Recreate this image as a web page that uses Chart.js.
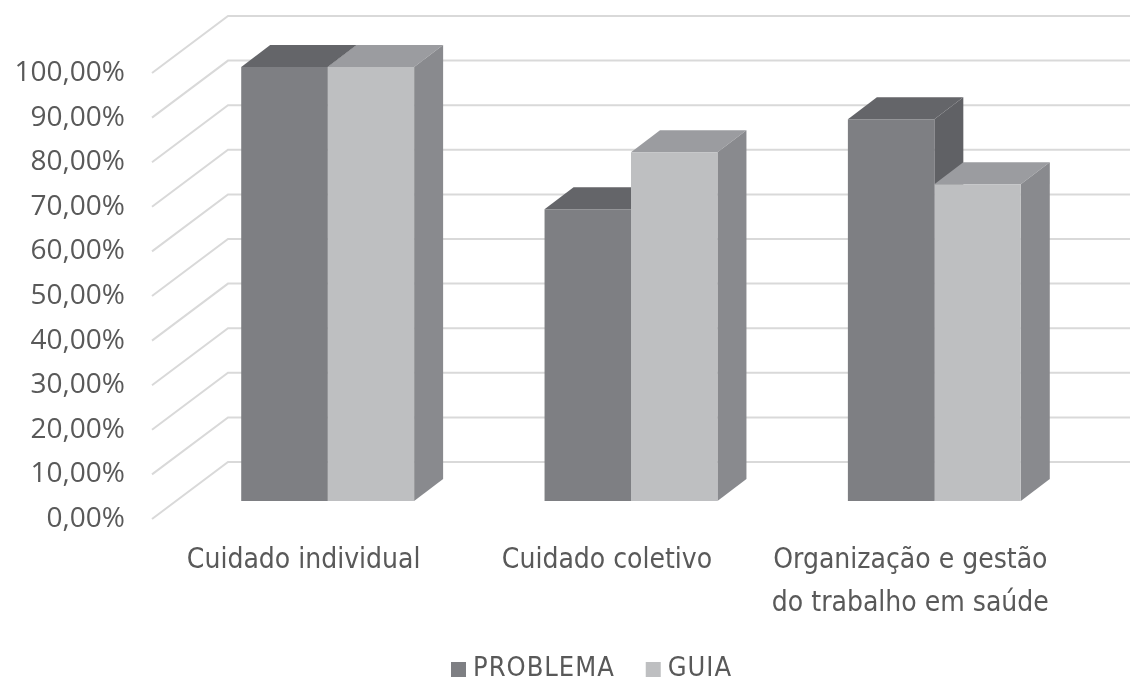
<!DOCTYPE html>
<html lang="pt-BR">
<head>
<meta charset="utf-8">
<title>Problema x Guia</title>
<script src="https://cdn.jsdelivr.net/npm/chart.js@4.4.1/dist/chart.umd.min.js"></script>
<style>
    html, body { margin: 0; padding: 0; background: #fff; }
    #grafico { position: relative; width: 1130px; height: 684px; }
</style>
</head>
<body>
<div id="grafico"><canvas id="chartDimensoes"></canvas></div>
<script>
const categorias = ['Cuidado individual', 'Cuidado coletivo', ['Organização e gestão', 'do trabalho em saúde']];
const problema = [97.3, 65.4, 85.6];
const guia = [97.3, 78.2, 71.0];
const marcas_eixo = [0, 10, 20, 30, 40, 50, 60, 70, 80, 90, 100];

// deslocamentos do efeito 3D (em px)
const PROF_BARRA = { x: 29, y: -22 };
const PAREDE_FRENTE = { x: -24, y: 18 };
const PAREDE_FUNDO = { x: 52, y: -39 };

const cores = [
    { frente: '#7e7f83', topo: '#646569', lado: '#606165' },
    { frente: '#bebfc1', topo: '#9b9ca0', lado: '#898a8e' }
];

function formata_pct(v) {
    return v.toFixed(2).replace('.', ',') + '%';
}

function poligono(ctx, pts, cor) {
    ctx.beginPath();
    ctx.moveTo(pts[0][0], pts[0][1]);
    for (let i = 1; i < pts.length; i++) ctx.lineTo(pts[i][0], pts[i][1]);
    ctx.closePath();
    ctx.fillStyle = cor;
    ctx.fill();
}

// os rótulos dos eixos não devem empurrar a área do gráfico
function sem_folga(s) {
    s.paddingTop = 0;
    s.paddingBottom = 0;
    s.paddingLeft = 0;
    s.paddingRight = 0;
}

const paredeEBarras3d = {
    id: 'paredeEBarras3d',
    beforeDatasetsDraw(chart) {
        const ctx = chart.ctx;
        const area = chart.chartArea;
        const y = chart.scales.y;
        ctx.save();

        // linhas de grade na parede lateral e no fundo
        ctx.strokeStyle = '#d9d9d9';
        ctx.lineWidth = 2;
        y.ticks.forEach(t => {
            const py = y.getPixelForValue(t.value);
            ctx.beginPath();
            ctx.moveTo(area.left + PAREDE_FRENTE.x, py + PAREDE_FRENTE.y);
            ctx.lineTo(area.left + PAREDE_FUNDO.x, py + PAREDE_FUNDO.y);
            ctx.lineTo(area.right + PAREDE_FUNDO.x + 20, py + PAREDE_FUNDO.y);
            ctx.stroke();
        });

        // topo e lateral de cada barra (a frente fica por conta do Chart.js)
        chart.data.datasets.forEach((ds, i) => {
            chart.getDatasetMeta(i).data.forEach(bar => {
                const p = bar.getProps(['x', 'y', 'width', 'base'], true);
                const esq = p.x - p.width / 2;
                const dir = p.x + p.width / 2;
                poligono(ctx, [
                    [esq, p.y], [esq + PROF_BARRA.x, p.y + PROF_BARRA.y],
                    [dir + PROF_BARRA.x, p.y + PROF_BARRA.y], [dir, p.y]
                ], cores[i].topo);
                poligono(ctx, [
                    [dir, p.y], [dir + PROF_BARRA.x, p.y + PROF_BARRA.y],
                    [dir + PROF_BARRA.x, p.base + PROF_BARRA.y], [dir, p.base]
                ], cores[i].lado);
            });
        });
        ctx.restore();
    },
    afterDraw(chart) {
        // legenda desenhada à mão para ficar com o quadradinho colado no texto
        const ctx = chart.ctx;
        ctx.save();
        ctx.font = '27px "DejaVu Sans Condensed", sans-serif';
        ctx.letterSpacing = '1px';
        ctx.textBaseline = 'middle';
        ctx.textAlign = 'left';
        let x = 451;
        const yLeg = 669;
        chart.data.datasets.forEach((ds, i) => {
            ctx.fillStyle = cores[i].frente;
            ctx.fillRect(x, yLeg - 7, 15, 15);
            ctx.fillStyle = '#595959';
            ctx.fillText(ds.label, x + 22, yLeg);
            x += 22 + ctx.measureText(ds.label).width + 31;
        });
        ctx.restore();
    }
};

function renderiza_problema_guia() {
    const ctx = document.getElementById('chartDimensoes').getContext('2d');

    new Chart(ctx, {
        type: 'bar',
        data: {
            labels: categorias,
            datasets: [
                {
                    label: 'PROBLEMA',
                    data: problema,
                    backgroundColor: cores[0].frente,
                    borderWidth: 0,
                    barPercentage: 1.0,
                    categoryPercentage: 0.57
                },
                {
                    label: 'GUIA',
                    data: guia,
                    backgroundColor: cores[1].frente,
                    borderWidth: 0,
                    barPercentage: 1.0,
                    categoryPercentage: 0.57
                }
            ]
        },
        options: {
            responsive: true,
            maintainAspectRatio: false,
            animation: false,
            layout: { padding: { top: 55, left: 12, right: 44, bottom: 63 } },
            plugins: {
                legend: { display: false },
                tooltip: { enabled: false }
            },
            scales: {
                x: {
                    grid: { display: false, drawTicks: false },
                    border: { display: false },
                    afterFit: s => { s.height = 120; sem_folga(s); },
                    ticks: {
                        color: '#595959',
                        font: { family: '"DejaVu Sans Condensed", sans-serif', size: 28, lineHeight: 1.55 },
                        padding: 38,
                        labelOffset: -24,
                        maxRotation: 0,
                        autoSkip: false
                    }
                },
                y: {
                    min: 0,
                    max: 100,
                    grid: { display: false, drawTicks: false },
                    border: { display: false },
                    afterFit: s => { s.width = 164; sem_folga(s); },
                    afterBuildTicks: s => { s.ticks = marcas_eixo.map(v => ({ value: v })); },
                    ticks: {
                        color: '#595959',
                        font: { family: '"Open Sans", sans-serif', size: 28 },
                        padding: 51,
                        labelOffset: 18,
                        callback: v => formata_pct(v)
                    }
                }
            }
        },
        plugins: [paredeEBarras3d]
    });
}

renderiza_problema_guia();
</script>
</body>
</html>
